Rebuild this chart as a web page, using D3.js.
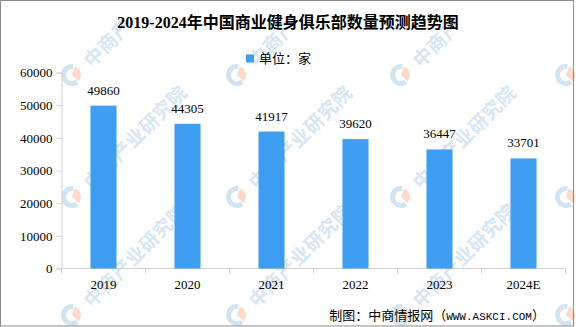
<!DOCTYPE html>
<html>
<head>
<meta charset="utf-8">
<script src="https://cdn.jsdelivr.net/npm/d3@7"></script>
<style>
  html, body { margin: 0; padding: 0; background: #fff; }
  svg { display: block; }
</style>
</head>
<body>
<div id="chart"></div>
<script>

// Chart data

var years = [ "2019", "2020", "2021", "2022", "2023", "2024E" ];
var clubs = [ 49860, 44305, 41917, 39620, 36447, 33701 ];
var yTicks = [ 0, 10000, 20000, 30000, 40000, 50000, 60000 ];

var titleText = "2019-2024年中国商业健身俱乐部数量预测趋势图";
var legendText = "单位：家";
var markText = "中商产业研究院";

var W = 576, H = 327;
var FONT = "'Liberation Serif', 'Noto Sans CJK SC', serif";
var CJK = "'Noto Sans CJK SC', sans-serif";
var BAR = "#3f9ef2";
var AXIS = "#d0d0d0";

var svg = d3.select("#chart").append("svg")
    .attr("width", W)
    .attr("height", H);

// Watermark (one char at a time, only the ones that fit inside)

var wm = svg.append("g").attr("class", "watermark");
var blueArc = d3.arc().innerRadius(6).outerRadius(11).startAngle(Math.PI * 0.8).endAngle(Math.PI * 2.05);
var orangeArc = d3.arc().innerRadius(0).outerRadius(9).startAngle(Math.PI * 0.1).endAngle(Math.PI * 0.75);
var step = 19.5 / Math.SQRT2;

[ -93, 72, 237, 401, 566 ].forEach(function ( cx ) {
    [ 75, 197, 315 ].forEach(function ( cy ) {

        var g = wm.append("g").attr("transform", "translate(" + cx + "," + cy + ")");

        g.append("path").attr("d", blueArc).style("fill", "#d2e4f1");
        g.append("path").attr("d", orangeArc).style("fill", "#f9dacb");

        markText.split("").forEach(function ( ch, k ) {

            var px = cx + 22 + k * step;
            var py = cy - 18 - k * step;

            if ( px < 16 || px > W - 17 || py < 17 || py > H - 16 ) return;

            wm.append("text")
                .attr("transform", "translate(" + px + "," + py + ") rotate(-45)")
                .attr("text-anchor", "middle")
                .attr("dy", "0.35em")
                .text(ch)
                .style("font-family", CJK)
                .style("font-weight", "bold")
                .style("font-size", "19px")
                .style("fill", "#d6e6f2");
        });
    });
});

// Border

svg.append("rect")
    .attr("x", 0.5)
    .attr("y", 0.5)
    .attr("width", W - 3)
    .attr("height", H - 1.5)
    .style("fill", "none")
    .style("stroke", "#8c8c8c");

// Title

svg.append("text")
    .attr("x", 288)
    .attr("y", 22)
    .attr("dy", "0.35em")
    .attr("text-anchor", "middle")
    .text(titleText)
    .style("font-family", FONT)
    .style("font-weight", "bold")
    .style("font-size", "16px")
    .style("fill", "#000");

// Legend

svg.append("rect")
    .attr("x", 246)
    .attr("y", 54.5)
    .attr("width", 8)
    .attr("height", 8)
    .style("fill", BAR);

svg.append("text")
    .attr("x", 259)
    .attr("y", 58.5)
    .attr("dy", "0.35em")
    .text(legendText)
    .style("font-family", CJK)
    .style("font-size", "13px")
    .style("fill", "#000");

// Scales

var x = d3.scaleBand()
    .domain(years)
    .range([ 61.5, 565.5 ])
    .paddingInner(0.69)
    .paddingOuter(0.345);

var xEdge = d3.scaleBand()
    .domain(years)
    .range([ 61.5, 565.5 ]);

var y = d3.scaleLinear()
    .domain([ 0, 60000 ])
    .range([ 268.5, 72.5 ]);

// Axes

var yAxis = svg.append("g")
    .attr("transform", "translate(61.5,0)")
    .call(d3.axisLeft(y).tickValues(yTicks).tickSize(5).tickPadding(4).tickFormat(d3.format("d")));

yAxis.selectAll("line, path").style("stroke", AXIS);
yAxis.selectAll("text")
    .style("font-family", FONT)
    .style("font-size", "13px")
    .style("fill", "#000");

var xAxis = svg.append("g")
    .attr("transform", "translate(0,268.5)");

xAxis.append("line")
    .attr("x1", 61.5)
    .attr("x2", 565.5)
    .style("stroke", AXIS);

xAxis.selectAll(".edge")
    .data(years.concat([ null ]))
    .enter().append("line")
    .attr("class", "edge")
    .attr("x1", function ( d ) { return d === null ? xEdge.range()[1] : xEdge(d); })
    .attr("x2", function ( d ) { return d === null ? xEdge.range()[1] : xEdge(d); })
    .attr("y1", 0)
    .attr("y2", 5)
    .style("stroke", AXIS);

xAxis.selectAll(".lbl")
    .data(years)
    .enter().append("text")
    .attr("class", "lbl")
    .attr("x", function ( d ) { return xEdge(d) + xEdge.bandwidth() / 2; })
    .attr("y", 20)
    .attr("text-anchor", "middle")
    .text(function ( d ) { return d; })
    .style("font-family", FONT)
    .style("font-size", "13px")
    .style("fill", "#000");

// Bars

svg.append("g")
    .selectAll("rect")
    .data(clubs)
    .enter().append("rect")
    .attr("x", function ( d, i ) { return x(years[i]); })
    .attr("y", function ( d ) { return y(d); })
    .attr("width", x.bandwidth())
    .attr("height", function ( d ) { return y(0) - y(d); })
    .style("fill", BAR);

// Value labels

svg.append("g")
    .selectAll("text")
    .data(clubs)
    .enter().append("text")
    .attr("x", function ( d, i ) { return x(years[i]) + x.bandwidth() / 2; })
    .attr("y", function ( d ) { return y(d) - 11; })
    .attr("text-anchor", "middle")
    .text(function ( d ) { return d; })
    .style("font-family", FONT)
    .style("font-size", "13px")
    .style("fill", "#000");

// Source note

var src = svg.append("text")
    .attr("x", 545)
    .attr("y", 315)
    .attr("dy", "0.35em")
    .attr("text-anchor", "end")
    .style("font-size", "13px")
    .style("fill", "#000");

src.append("tspan").style("font-family", CJK).text("制图：中商情报网（");
src.append("tspan").style("font-family", "'Liberation Mono', monospace").style("font-size", "11px").text("WWW.ASKCI.COM");
src.append("tspan").style("font-family", CJK).text("）");

</script>
</body>
</html>
